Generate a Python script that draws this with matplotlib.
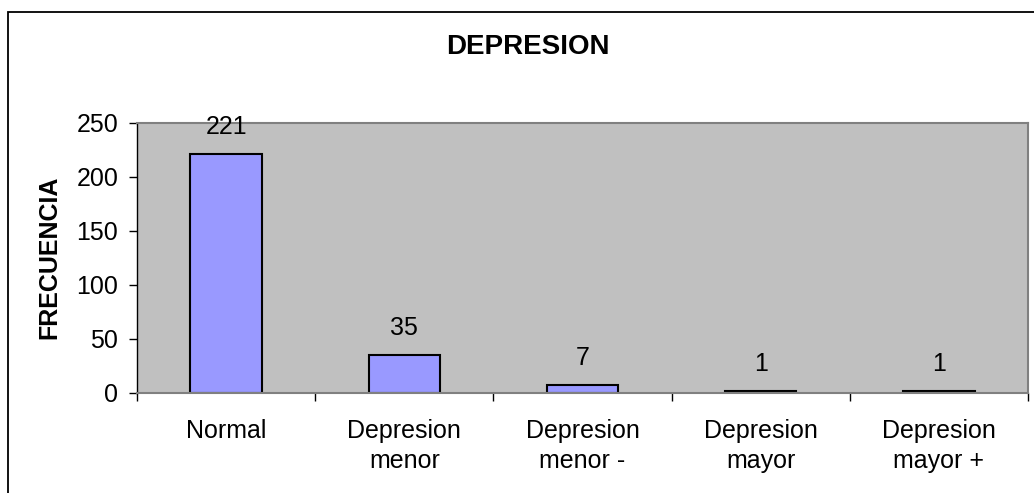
import matplotlib
matplotlib.use("Agg")
import matplotlib.pyplot as plt
from matplotlib.patches import Rectangle

categories = ["Normal", "Depresion\nmenor", "Depresion\nmenor -", "Depresion\nmayor", "Depresion\nmayor +"]
values = [221, 35, 7, 1, 1]
yticks = [0, 50, 100, 150, 200, 250]

plt.rcParams['font.family'] = ['Liberation Sans', 'DejaVu Sans']

W, H = 1034, 493
fig = plt.figure(figsize=(W / 100, H / 100), dpi=100)
fig.patch.set_facecolor('white')

# outer chart frame
fig.patches.append(Rectangle((8 / W, -0.1), 1.2, (H - 12.5) / H + 0.1,
                             transform=fig.transFigure, fill=False,
                             edgecolor='black', linewidth=1.3))

ax = fig.add_axes([137 / W, 1 - 392.5 / H, (1028 - 137) / W, (392.5 - 123) / H])
ax.set_facecolor('#C0C0C0')

x = list(range(len(categories)))
bars = ax.bar(x, values, width=0.4, color='#9999FF', edgecolor='black', linewidth=1.5)
for xi, v in zip(x, values):
    ax.annotate(str(v), (xi, v), xytext=(0, 19.5), textcoords='offset points',
                ha='center', va='center', fontsize=18)

ax.set_xlim(-0.5, len(categories) - 0.5)
ax.set_ylim(0, 250)
ax.set_yticks(yticks)
ax.set_yticklabels([str(t) for t in yticks], fontsize=18)
ax.set_xticks(x)
ax.set_xticklabels(categories, fontsize=18, linespacing=1.3)
ax.tick_params(axis='x', length=0, pad=19)
ax.set_xticks([i - 0.5 for i in range(len(categories) + 1)], minor=True)
ax.tick_params(axis='x', which='minor', length=6, width=1, color='black', direction='out')
ax.tick_params(axis='y', length=5.5, width=1, color='black', direction='out', pad=8)

for s in ['top', 'right']:
    ax.spines[s].set_color('#808080')
    ax.spines[s].set_linewidth(1.5)
ax.spines['left'].set_color('black')
ax.spines['left'].set_linewidth(1)
ax.spines['bottom'].set_color('#808080')
ax.spines['bottom'].set_linewidth(1.5)

ax.set_ylabel('FRECUENCIA', fontsize=18, fontweight='bold')
ax.yaxis.set_label_coords(61 / W, 1 - 257 / H, transform=fig.transFigure)
fig.text(528 / W, 1 - 47 / H, 'DEPRESION', ha='center', va='center', fontsize=20, fontweight='bold')

fig.savefig('out.png', dpi=100, facecolor='white')
